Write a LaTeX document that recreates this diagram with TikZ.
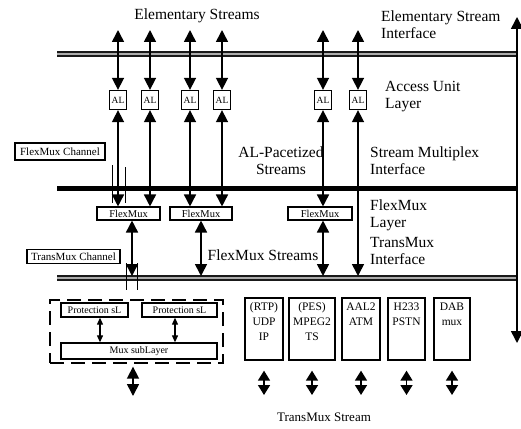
\documentclass[tikz,border=0pt]{standalone}
\usepackage{fontspec}
\setmainfont{Liberation Serif}
\usetikzlibrary{arrows.meta}

\tikzset{
	dblarrow/.style={{Triangle[width=12pt,length=12pt]}-{Triangle[width=12pt,length=12pt]}, line width=1.6pt},
	shortarrow/.style={{Triangle[width=12pt,length=10pt]}-{Triangle[width=12pt,length=10pt]}, line width=1.6pt},
	smallarrow/.style={{Triangle[width=6pt,length=7pt]}-{Triangle[width=6pt,length=7pt]}, line width=1.1pt},
	hatchbar/.style={line width=1.3pt, draw=black!90, double=gray!65, double distance=2.6pt},
	solidbar/.style={line width=5pt, draw=black},
	albox/.style={draw, fill=white, line width=1.3pt, minimum width=17pt, minimum height=19pt, inner sep=0pt, font=\fontsize{9.5}{9.5}\selectfont},
	fmbox/.style={draw, fill=white, line width=1.1pt, minimum height=13pt, inner sep=0pt, font=\fontsize{10.5}{10.5}\selectfont},
	chbox/.style={draw, line width=1.3pt, inner sep=0pt, font=\fontsize{11}{11}\selectfont},
	subbox/.style={draw, line width=1.3pt, inner sep=0pt, font=\fontsize{10}{10}\selectfont},
	tbox/.style={draw, line width=1.3pt, minimum height=62pt, inner sep=0pt},
	tlabel/.style={anchor=north, align=center, inner sep=0pt, yshift=-5pt, font=\fontsize{11.5}{15}\selectfont},
	lbl/.style={inner sep=0pt, font=\fontsize{15.5}{17}\selectfont},
}

\begin{document}
\begin{tikzpicture}[x=1pt, y=-1pt]
		\useasboundingbox (0,0) rectangle (521,428);
		% interfaces
		\coordinate (esl) at (57,54);
		\coordinate (esr) at (517,54);
		\coordinate (sml) at (57,188);
		\coordinate (smr) at (517,188);
		\coordinate (tml) at (57,278);
		\coordinate (tmr) at (517,278);
		\draw[hatchbar] (esl)--(esr);
		\draw[solidbar] (sml)--(smr);
		\draw[hatchbar] (tml)--(tmr);
		\coordinate (rtop) at (517,17);
		\coordinate (rbot) at (517,343);
		\draw[dblarrow] (rtop)--(rbot);
		% labels
		\node[lbl, anchor=base] (esname) at (197,20) {Elementary Streams};
		\node[lbl, anchor=north west, align=left] (esif) at (381,10.5) {Elementary Stream\\Interface};
		\node[lbl, anchor=north west, align=left] (aul) at (385,81.5) {Access Unit\\Layer};
		\node[lbl, anchor=north, align=center] (alps) at (281,146.5) {AL-Pacetized\\Streams};
		\node[lbl, anchor=north west, align=left] (smi) at (370,146.5) {Stream Multiplex\\Interface};
		\node[lbl, anchor=north west, align=left] (fml) at (370,199.5) {FlexMux\\Layer};
		\node[lbl, anchor=north west, align=left] (tmi) at (370,237.5) {TransMux\\Interface};
		\node[lbl, anchor=base] (fms) at (263,260) {FlexMux Streams};
		\node[lbl, anchor=base, font=\fontsize{13}{13}\selectfont] (tms) at (324,421) {TransMux Stream};
		% access unit layer
		\node[albox] (al1) at (118,100) {AL};
		\node[albox] (al2) at (150,100) {AL};
		\node[albox] (al3) at (190,100) {AL};
		\node[albox] (al4) at (222,100) {AL};
		\node[albox] (al5) at (323,100) {AL};
		\node[albox] (al6) at (358,100) {AL};
		\coordinate (es1) at (118,30);
		\coordinate (es2) at (150,30);
		\coordinate (es3) at (190,30);
		\coordinate (es4) at (222,30);
		\coordinate (es5) at (323,30);
		\coordinate (es6) at (358,30);
		\draw[dblarrow] (es1)--(al1);
		\draw[dblarrow] (es2)--(al2);
		\draw[dblarrow] (es3)--(al3);
		\draw[dblarrow] (es4)--(al4);
		\draw[dblarrow] (es5)--(al5);
		\draw[dblarrow] (es6)--(al6);
		% flexmux layer
		\node[fmbox, minimum width=63pt] (fm1) at (128.5,213.5) {FlexMux};
		\node[fmbox, minimum width=62pt] (fm2) at (201,213.5) {FlexMux};
		\node[fmbox, minimum width=64pt] (fm3) at (320,213.5) {FlexMux};
		\draw[dblarrow] (al1)--(al1 |- fm1.north);
		\draw[dblarrow] (al2)--(al2 |- fm1.north);
		\draw[dblarrow] (al3)--(al3 |- fm2.north);
		\draw[dblarrow] (al4)--(al4 |- fm2.north);
		\draw[dblarrow] (al5)--(al5 |- fm3.north);
		\coordinate (tm6) at (358,276);
		\draw[dblarrow] (al6)--(tm6);
		\coordinate (tm1) at (132,276);
		\coordinate (tm2) at (201,276);
		\coordinate (tm3) at (323,276);
		\draw[dblarrow] (tm1 |- fm1.south)--(tm1);
		\draw[dblarrow] (tm2 |- fm2.south)--(tm2);
		\draw[dblarrow] (tm3 |- fm3.south)--(tm3);
		% channels
		\node[chbox, minimum width=90pt, minimum height=17pt] (fmch) at (60,151.5) {FlexMux Channel};
		\draw[line width=1pt] (112,165)--(112,203);
		\draw[line width=1pt] (125,167)--(125,203);
		\node[chbox, minimum width=93pt, minimum height=14pt] (tmch) at (73.5,256.5) {TransMux Channel};
		\draw[line width=1pt] (126,263)--(126,290);
		\draw[line width=1pt] (137,263)--(137,290);
		% transmux layer
		\node[draw, dashed, dash pattern=on 14pt off 7pt, line width=1.3pt, minimum width=173pt, minimum height=63pt] (muxgrp) at (136.5,331.5) {};
		\node[subbox, minimum width=67pt, minimum height=14pt] (pl1) at (94.5,310) {Protection sL};
		\node[subbox, minimum width=75pt, minimum height=14pt] (pl2) at (179.5,310) {Protection sL};
		\node[subbox, minimum width=156pt, minimum height=16pt] (mux) at (139,351) {Mux subLayer};
		\draw[smallarrow] ([xshift=5.5pt]pl1.south)--([xshift=5.5pt]pl1.south |- mux.north);
		\draw[smallarrow] ([xshift=-4.5pt]pl2.south)--([xshift=-4.5pt]pl2.south |- mux.north);
		\coordinate (mxo) at (133,396);
		\draw[dblarrow, shorten <=7pt] (mxo |- mux.south)--(mxo);
		\node[tbox, minimum width=38pt, label={[tlabel]north:{(RTP)\\UDP\\IP}}] (udp) at (264,329) {};
		\node[tbox, minimum width=46pt, label={[tlabel]north:{(PES)\\MPEG2\\TS}}] (mpeg) at (312,329) {};
		\node[tbox, minimum width=38pt, label={[tlabel]north:{AAL2\\ATM}}] (atm) at (361,329) {};
		\node[tbox, minimum width=37pt, label={[tlabel]north:{H233\\PSTN}}] (pstn) at (406.5,329) {};
		\node[tbox, minimum width=36pt, label={[tlabel]north:{DAB\\mux}}] (dab) at (452,329) {};
		\coordinate (ts1) at (264,395);
		\coordinate (ts2) at (312,395);
		\coordinate (ts3) at (361,395);
		\coordinate (ts4) at (406.5,395);
		\coordinate (ts5) at (452,395);
		\draw[shortarrow, shorten <=10pt] (udp)--(ts1);
		\draw[shortarrow, shorten <=10pt] (mpeg)--(ts2);
		\draw[shortarrow, shorten <=10pt] (atm)--(ts3);
		\draw[shortarrow, shorten <=10pt] (pstn)--(ts4);
		\draw[shortarrow, shorten <=10pt] (dab)--(ts5);
	\end{tikzpicture}
\end{document}
